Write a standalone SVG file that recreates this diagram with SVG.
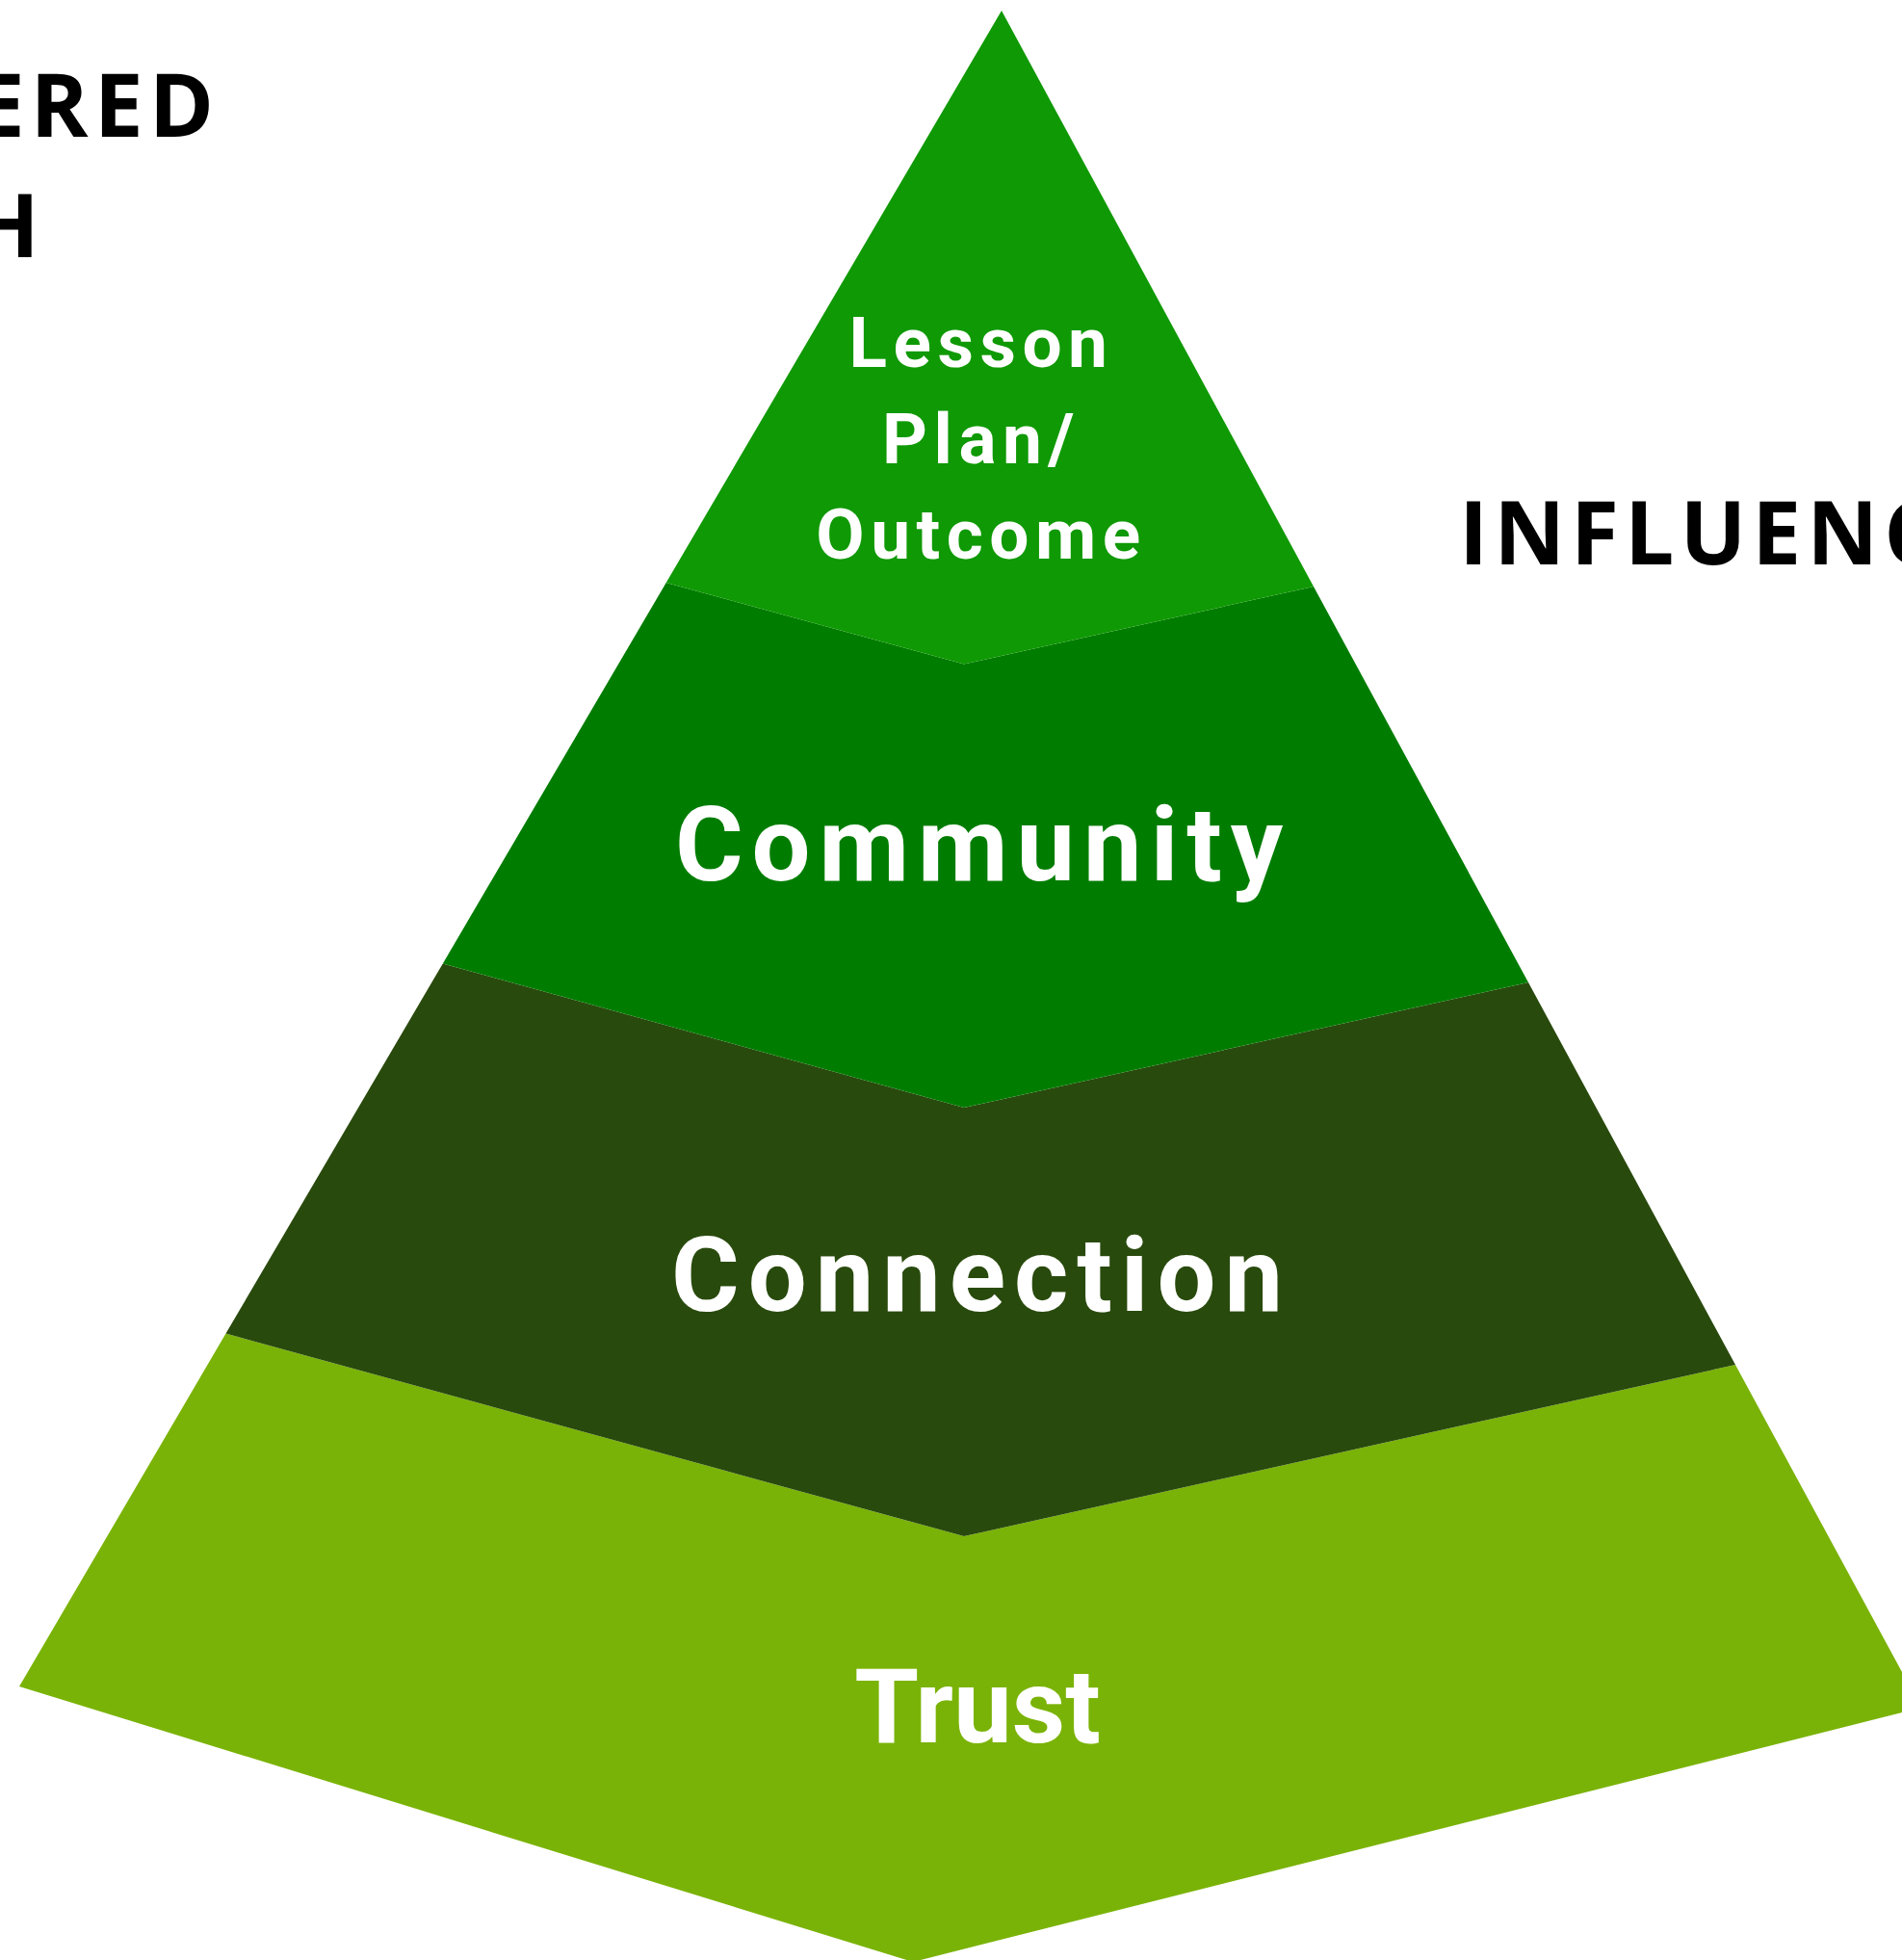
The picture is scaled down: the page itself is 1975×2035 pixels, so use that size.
<svg xmlns="http://www.w3.org/2000/svg" width="1975" height="2035" viewBox="0 0 1975 2035">
<style>
.title{font-family:"Open Sans","Liberation Sans",sans-serif;font-weight:700;font-size:91px;fill:#000;letter-spacing:6px}
.lbl{font-family:Roboto,"Liberation Sans",sans-serif;font-weight:700;fill:#fff;text-anchor:middle}
.sm{font-size:73px;letter-spacing:6.5px}
.lg{font-size:108px;letter-spacing:9px}
</style>
<rect width="1975" height="2035" fill="#fff"/>
<g id="titles">
<text class="title" x="228" y="142" text-anchor="end">ERED</text>
<text class="title" x="47" y="267" text-anchor="end">H</text>
<text class="title" x="1515" y="586">INFLUENC</text>
</g>
<g id="layer-trust">
<polygon points="234.5,1384.6 1001,1595 1802,1417 1995,1773 948,2037 20,1751" fill="#7AB307"/>
<text class="lbl" x="1015" y="1809" font-size="108">Trust</text>
</g>
<g id="layer-connection">
<polygon points="459.8,1000.4 1001,1150 1587,1020 1802,1417 1001,1595 234.5,1384.6" fill="#294A0D"/>
<text class="lbl lg" x="1019" y="1361">Connection</text>
</g>
<g id="layer-community">
<polygon points="691.7,605 1001,689.5 1364,609 1587,1020 1001,1150 459.8,1000.4" fill="#007D00"/>
<text class="lbl lg" x="1021" y="914">Community</text>
</g>
<g id="layer-lesson">
<polygon points="1040,11 1364,609 1001,689.5 691.7,605" fill="#0F9904"/>
<text class="lbl sm" x="1019" y="381">Lesson</text>
<text class="lbl sm" x="1019" y="481">Plan/</text>
<text class="lbl sm" x="1019" y="580">Outcome</text>
</g>
<g id="connectors"></g>
</svg>
